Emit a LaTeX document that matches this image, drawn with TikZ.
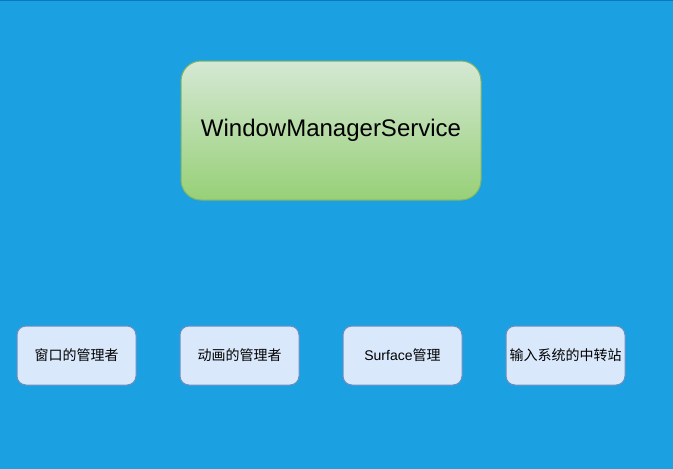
\documentclass[tikz,border=0pt]{standalone}
\usepackage{fontspec}
\setmainfont{Liberation Sans}
\newfontfamily\cjk{Noto Sans CJK SC}
\usetikzlibrary{positioning}
\definecolor{bgblue}{HTML}{1BA1E2}
\definecolor{topline}{HTML}{0B78BF}
\definecolor{wmstop}{HTML}{D5E8D4}
\definecolor{wmsbottom}{HTML}{97D077}
\definecolor{wmsline}{HTML}{82B366}
\definecolor{partfill}{HTML}{DAE8FC}
\definecolor{partline}{HTML}{6C8EBF}

\begin{document}
\begin{tikzpicture}[node distance=43pt,
                wms/.style={draw=wmsline,line width=1pt,rounded corners=20pt,top color=wmstop,bottom color=wmsbottom,minimum width=300pt,minimum height=139pt,inner sep=0pt,font=\fontsize{24}{28}\selectfont},
                part/.style={draw=partline,line width=1pt,fill=partfill,rounded corners=9pt,minimum width=119pt,minimum height=59pt,inner sep=0pt,font=\fontsize{14}{16}\selectfont}]
                \fill[bgblue] (0,0) rectangle (673pt,-469pt);
                \useasboundingbox (0,0) rectangle (673pt,-469pt);
                \coordinate (tl) at (0,-0.5pt);
                \coordinate (tr) at (673pt,-0.5pt);
                \draw[topline,line width=1.5pt] (tl) -- (tr);
                \node[wms] (service) at (331pt,-130.5pt) {\raisebox{-2pt}{WindowManagerService}};
                \node[part] (window) at (76.5pt,-355.5pt) {\cjk 窗口的管理者};
                \node[part] (anim) [right=of window] {\cjk 动画的管理者};
                \node[part] (surface) [right=of anim] {Surface{\cjk 管理}};
                \node[part] (input) [right=of surface] {\cjk 输入系统的中转站};
            \end{tikzpicture}
\end{document}
